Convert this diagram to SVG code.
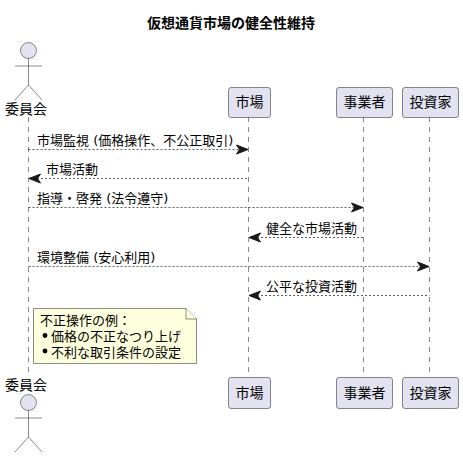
<svg xmlns="http://www.w3.org/2000/svg" width="463" height="458" viewBox="0 0 463 458">
<defs>
<style>
text{font-family:"DejaVu Sans","Noto Sans CJK JP",sans-serif;font-size:13px;fill:#000}
.t{font-size:14px;font-weight:700}
.a{font-size:14px}
.life{stroke:#181818;stroke-opacity:.75;stroke-width:.7;stroke-dasharray:5 5;fill:none}
.box{fill:#E2E2F0;stroke:#181818;stroke-width:.5;rx:2.5}
.head{fill:#E2E2F0;stroke:#181818;stroke-width:.5}
.stick{fill:none;stroke:#181818;stroke-width:.5}
.msg{stroke:#181818;stroke-width:.7;stroke-dasharray:2 2;fill:none}
.ah{fill:#181818;stroke:#181818;stroke-width:1}
.note{fill:#FEFFDD;stroke:#181818;stroke-width:.5}
</style>
</defs>
<rect width="463" height="458" fill="#fff"/>
<text class="t" x="231" y="28" text-anchor="middle">仮想通貨市場の健全性維持</text>
<g id="lifelines">
<line class="life" x1="28.5" y1="117" x2="28.5" y2="373"/>
<line class="life" x1="248.5" y1="117" x2="248.5" y2="377"/>
<line class="life" x1="363.5" y1="117" x2="363.5" y2="377"/>
<line class="life" x1="429.5" y1="117" x2="429.5" y2="377"/>
</g>
<g id="connectors">
<line class="msg" x1="28.5" y1="149.5" x2="244" y2="149.5"/>
<path class="ah" d="M248,149.5 L236.5,145 L239.5,149.5 L236.5,154 Z"/>
<text x="37" y="145">市場監視 (価格操作、不公正取引)</text>
<line class="msg" x1="33" y1="178.5" x2="248.5" y2="178.5"/>
<path class="ah" d="M29,178.5 L40.5,174 L37.5,178.5 L40.5,183 Z"/>
<text x="46" y="174">市場活動</text>
<line class="msg" x1="28.5" y1="207.5" x2="359" y2="207.5"/>
<path class="ah" d="M363,207.5 L351.5,203 L354.5,207.5 L351.5,212 Z"/>
<text x="37" y="203">指導・啓発 (法令遵守)</text>
<line class="msg" x1="253" y1="237.5" x2="363.5" y2="237.5"/>
<path class="ah" d="M249,237.5 L260.5,233 L257.5,237.5 L260.5,242 Z"/>
<text x="266" y="233">健全な市場活動</text>
<line class="msg" x1="28.5" y1="266.5" x2="425" y2="266.5"/>
<path class="ah" d="M429,266.5 L417.5,262 L420.5,266.5 L417.5,271 Z"/>
<text x="37" y="262">環境整備 (安心利用)</text>
<line class="msg" x1="253" y1="295.5" x2="429.5" y2="295.5"/>
<path class="ah" d="M249,295.5 L260.5,291 L257.5,295.5 L260.5,300 Z"/>
<text x="266" y="291">公平な投資活動</text>
</g>
<g id="actor-top">
<circle class="head" cx="28.5" cy="50.5" r="8"/>
<path class="stick" d="M28.5,58.5V85M15,66H42M15,100L28.5,85L42,100"/>
<text class="a" x="26" y="114" text-anchor="middle">委員会</text>
</g>
<g id="market-top">
<rect class="box" x="228.5" y="87.5" width="42" height="30"/>
<text class="a" x="249.5" y="107" text-anchor="middle">市場</text>
</g>
<g id="operator-top">
<rect class="box" x="336.5" y="87.5" width="56" height="30"/>
<text class="a" x="364.5" y="107" text-anchor="middle">事業者</text>
</g>
<g id="investor-top">
<rect class="box" x="402.5" y="87.5" width="56" height="30"/>
<text class="a" x="430.5" y="107" text-anchor="middle">投資家</text>
</g>
<g id="note">
<path class="note" d="M33.5,308.5H186L196.5,319V363.5H33.5Z"/>
<path class="note" d="M186,308.5V319H196.5"/>
<text x="40" y="325">不正操作の例：</text>
<circle cx="45" cy="335.5" r="2.4" fill="#000"/>
<text x="51" y="341">価格の不正なつり上げ</text>
<circle cx="45" cy="351" r="2.4" fill="#000"/>
<text x="51" y="356.5">不利な取引条件の設定</text>
</g>
<g id="actor-bottom">
<text class="a" x="26" y="390" text-anchor="middle">委員会</text>
<circle class="head" cx="28.5" cy="402.5" r="8"/>
<path class="stick" d="M28.5,410.5V437M15,418H42M15,452L28.5,437L42,452"/>
</g>
<g id="market-bottom">
<rect class="box" x="228.5" y="377.5" width="42" height="31"/>
<text class="a" x="249.5" y="398" text-anchor="middle">市場</text>
</g>
<g id="operator-bottom">
<rect class="box" x="336.5" y="377.5" width="56" height="31"/>
<text class="a" x="364.5" y="398" text-anchor="middle">事業者</text>
</g>
<g id="investor-bottom">
<rect class="box" x="402.5" y="377.5" width="56" height="31"/>
<text class="a" x="430.5" y="398" text-anchor="middle">投資家</text>
</g>
</svg>
